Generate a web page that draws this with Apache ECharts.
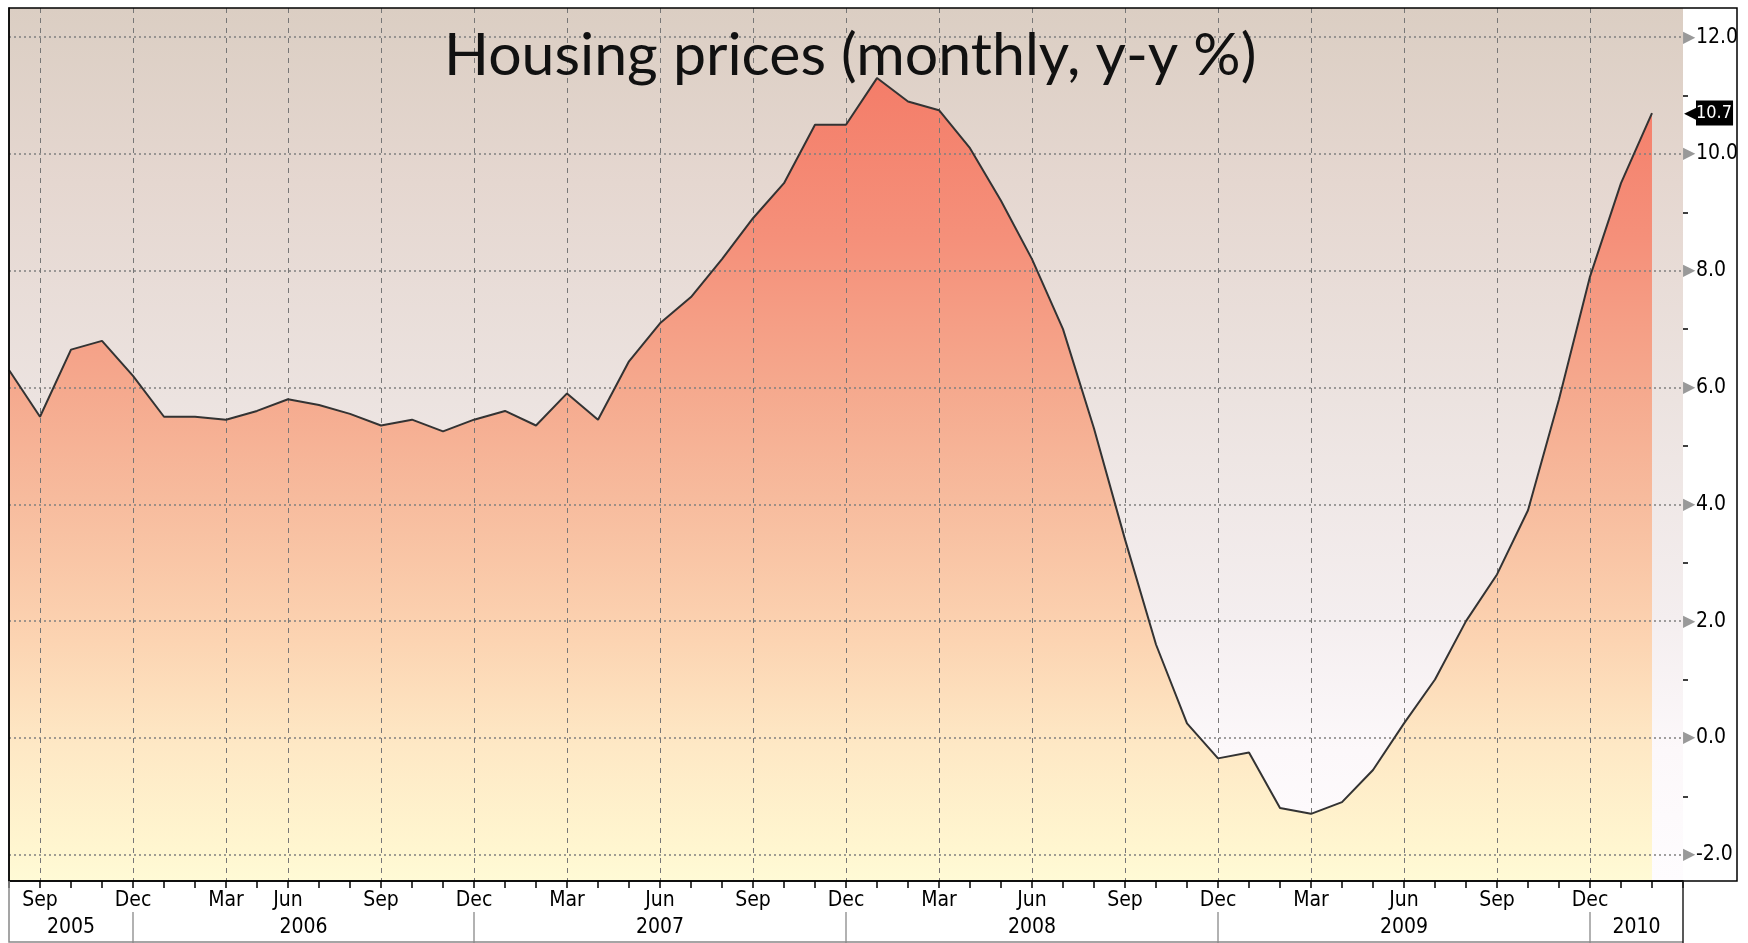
<!DOCTYPE html>
<html>
<head>
<meta charset="utf-8">
<title>Housing prices (monthly, y-y %)</title>
<script src="https://cdn.jsdelivr.net/npm/echarts@6/dist/echarts.min.js"></script>
<style>
  html, body { margin: 0; padding: 0; background: #fff; }
  #main { width: 1748px; height: 943px; }
</style>
</head>
<body>
<div id="main"></div>
<script>
// one slot per monthly point, Aug 2005 .. Feb 2010, plus an empty slot at the right edge
const months = ['Aug', 'Sep', 'Oct', 'Nov', 'Dec',
  'Jan', 'Feb', 'Mar', 'May', 'Jun', 'Jul', 'Aug', 'Sep', 'Oct', 'Nov', 'Dec',
  'Jan', 'Feb', 'Mar', 'Apr', 'May', 'Jun', 'Jul', 'Aug', 'Sep', 'Oct', 'Nov', 'Dec',
  'Jan', 'Feb', 'Mar', 'Apr', 'May', 'Jun', 'Jul', 'Aug', 'Sep', 'Oct', 'Nov', 'Dec',
  'Jan', 'Feb', 'Mar', 'Apr', 'May', 'Jun', 'Jul', 'Aug', 'Sep', 'Oct', 'Nov', 'Dec',
  'Jan', 'Feb', 'Mar'];

const values = [6.3, 5.5, 6.65, 6.8, 6.2,
  5.5, 5.5, 5.45, 5.6, 5.8, 5.7, 5.55, 5.35, 5.45, 5.25, 5.45,
  5.6, 5.35, 5.9, 5.45, 6.45, 7.1, 7.55, 8.2, 8.9, 9.5, 10.5, 10.5,
  11.3, 10.9, 10.75, 10.1, 9.2, 8.2, 7.0, 5.3, 3.4, 1.6, 0.25, -0.35,
  -0.25, -1.2, -1.3, -1.1, -0.55, 0.25, 1.0, 2.0, 2.8, 3.9, 5.8, 7.9,
  9.5, 10.7];

const quarterMonths = ['Mar', 'Jun', 'Sep', 'Dec'];
const years = ['2005', '2006', '2007', '2008', '2009', '2010'];
const yearBreaks = [4, 15, 27, 39, 51];   // slots where the year dividers sit
const yTicks = [-2, 0, 2, 4, 6, 8, 10, 12];
const yMinorTicks = [-1, 1, 3, 5, 7, 9, 11];
const yMin = -2.45, yMax = 12.5;

const W = 1748, H = 943;
const grid = { left: 9, right: 65, top: 8, bottom: 62 };
const frameRight = 1737;
const font = "'Liberation Sans Narrow', 'Arial Narrow', 'DejaVu Sans Condensed', sans-serif";

// year labels sit midway between dividers
const bounds = [0].concat(yearBreaks, [months.length - 1]);
const yearCenters = years.map((y, i) => (bounds[i] + bounds[i + 1]) / 2);

const isQuarterTick = (i, name) => i < months.length - 1 && quarterMonths.includes(name);

const plotBottom = H - grid.bottom;
const axisX = W - grid.right;

var myChart = echarts.init(document.getElementById('main'));

var option = {
  animation: false,
  backgroundColor: '#fff',
  title: {
    text: 'Housing prices (monthly, y-y %)',
    left: 439,
    top: 21,
    z: 10,
    textStyle: { fontFamily: 'Lato', fontSize: 59, fontWeight: 'normal', color: '#111' }
  },
  grid: {
    left: grid.left, right: grid.right, top: grid.top, bottom: grid.bottom,
    show: true,
    borderWidth: 0,
    backgroundColor: new echarts.graphic.LinearGradient(0, 0, 0, 1, [
      { offset: 0, color: '#dbcec3' },
      { offset: 0.2, color: '#e5d7d0' },
      { offset: 0.45, color: '#ece3e0' },
      { offset: 0.7, color: '#f4eeef' },
      { offset: 0.85, color: '#fcf8fa' },
      { offset: 1, color: '#fefcfe' }
    ])
  },
  xAxis: [
    {
      type: 'category',
      data: months,
      boundaryGap: false,
      position: 'bottom',
      z: 3,
      axisLine: { onZero: false, lineStyle: { color: '#000', width: 1.5 } },
      axisTick: { interval: 0, length: 7, lineStyle: { color: '#000', width: 1.5 } },
      axisLabel: { interval: isQuarterTick, margin: 9, fontFamily: font, fontSize: 21, color: '#000' },
      splitLine: { show: true, interval: isQuarterTick, lineStyle: { color: '#777', type: [5, 5], width: 1 } }
    },
    {
      type: 'value',
      min: 0,
      max: months.length - 1,
      position: 'bottom',
      offset: 31,
      axisLine: { show: false, onZero: false },
      axisTick: { show: true, customValues: yearBreaks, length: 31, lineStyle: { color: '#999', width: 1.5 } },
      axisLabel: {
        customValues: yearCenters,
        formatter: v => years[yearCenters.indexOf(v)],
        margin: 5, fontFamily: font, fontSize: 21, color: '#000'
      },
      splitLine: { show: false }
    }
  ],
  yAxis: [
    {
      type: 'value',
      position: 'right',
      min: yMin,
      max: yMax,
      splitNumber: 7,
      z: 3,
      axisLine: { show: true, lineStyle: { color: '#222', width: 1.5 } },
      axisTick: { show: false, customValues: yTicks },
      axisLabel: {
        customValues: yTicks,
        margin: 0,
        formatter: v => '{a|\u25B6}{b|' + v.toFixed(1) + '}',
        rich: {
          a: { color: '#999', fontSize: 16, padding: [0, 1, 0, 0] },
          b: { fontFamily: font, fontSize: 21, color: '#000' }
        }
      },
      splitLine: { show: true, lineStyle: { color: '#808080', type: [2, 3], width: 1.5 } }
    },
    {
      type: 'value',
      position: 'right',
      min: yMin,
      max: yMax,
      z: 4,
      axisLine: { show: false },
      axisTick: { show: true, customValues: yMinorTicks, length: 5, lineStyle: { color: '#000', width: 1.5 } },
      axisLabel: {
        customValues: [values[values.length - 1]],
        margin: 1,
        formatter: v => '{p|\u25C0}{v|' + v.toFixed(1) + '}',
        rich: {
          p: { color: '#000', fontSize: 20, padding: [0, -3, 0, 0] },
          v: { fontFamily: font, fontSize: 18, color: '#fff', backgroundColor: '#000', padding: [4, 1, 3, 0] }
        }
      },
      splitLine: { show: false }
    }
  ],
  series: [
    {
      name: 'fill',
      type: 'line',
      data: values,
      symbol: 'none',
      silent: true,
      z: 1,
      lineStyle: { width: 0 },
      areaStyle: {
        origin: 'start',
        opacity: 1,
        color: new echarts.graphic.LinearGradient(0, 0, 0, 1, [
          { offset: 0, color: '#f47d69' },
          { offset: 0.2, color: '#f5907a' },
          { offset: 0.38, color: '#f5a88d' },
          { offset: 0.53, color: '#f7bc9e' },
          { offset: 0.7, color: '#fcd4b2' },
          { offset: 0.83, color: '#fee8c5' },
          { offset: 0.96, color: '#fff6d0' },
          { offset: 1, color: '#fffad6' }
        ])
      }
    },
    {
      name: 'Housing prices',
      type: 'line',
      data: values,
      symbol: 'none',
      z: 5,
      lineStyle: { color: '#333', width: 2 }
    }
  ],
  graphic: [
    {
      type: 'rect',
      z: 20,
      silent: true,
      shape: { x: grid.left, y: grid.top, width: frameRight - grid.left, height: plotBottom - grid.top },
      style: { fill: null, stroke: '#000', lineWidth: 1.5 }
    },
    {
      type: 'polyline',
      z: 20,
      silent: true,
      shape: { points: [[grid.left, plotBottom], [grid.left, H - 1], [axisX, H - 1]] },
      style: { fill: null, stroke: '#888', lineWidth: 1.5 }
    },
    {
      type: 'line',
      z: 20,
      silent: true,
      shape: { x1: axisX, y1: plotBottom, x2: axisX, y2: H },
      style: { stroke: '#222', lineWidth: 1.5 }
    }
  ]
};

myChart.setOption(option);
</script>
</body>
</html>
